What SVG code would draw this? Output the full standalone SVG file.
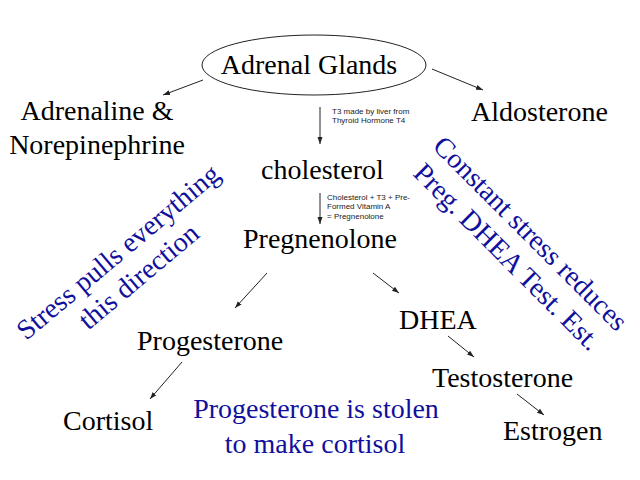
<svg xmlns="http://www.w3.org/2000/svg" width="640" height="480" viewBox="0 0 640 480">
<style>
.t{font-family:"Liberation Serif","Times New Roman",serif;font-size:28px;fill:#000}
.b{font-family:"Liberation Serif","Times New Roman",serif;font-size:28px;fill:#10109c}
.s{font-family:"Liberation Sans",Arial,sans-serif;font-size:8px;fill:#222}
.c{stroke:#222;stroke-width:1;fill:none;marker-end:url(#ah)}
</style>
<defs>
<marker id="ah" markerUnits="userSpaceOnUse" markerWidth="8" markerHeight="6" refX="7" refY="3" orient="auto">
<path d="M0,0.5 L7,3 L0,5.5 z" fill="#222"/>
</marker>
</defs>
<rect width="640" height="480" fill="#fff"/>
<g id="connectors">
<line class="c" x1="203" y1="80" x2="163" y2="95"/>
<line class="c" x1="432" y1="69" x2="483" y2="90"/>
<line class="c" x1="320" y1="107" x2="320" y2="144"/>
<line class="c" x1="320" y1="193" x2="320" y2="224"/>
<line class="c" x1="267" y1="273" x2="235" y2="308"/>
<line class="c" x1="373" y1="273" x2="399" y2="293"/>
<line class="c" x1="448" y1="336" x2="474" y2="357"/>
<line class="c" x1="182" y1="362" x2="150" y2="399"/>
<line class="c" x1="517" y1="394" x2="544" y2="415"/>
</g>
<g id="adrenal">
<ellipse cx="314" cy="65" rx="112" ry="30" fill="#fff" stroke="#222" stroke-width="1"/>
<text class="t" x="309" y="74" text-anchor="middle">Adrenal Glands</text>
</g>
<g id="adrenaline">
<text class="t" x="97" y="120" text-anchor="middle">Adrenaline &amp;</text>
<text class="t" x="97" y="154" text-anchor="middle">Norepinephrine</text>
</g>
<g id="aldosterone"><text class="t" x="471" y="121">Aldosterone</text></g>
<g id="note-t3">
<text class="s" x="332" y="113.5">T3 made by liver from</text>
<text class="s" x="332" y="123">Thyroid Hormone T4</text>
</g>
<g id="cholesterol"><text class="t" x="261" y="179">cholesterol</text></g>
<g id="note-preg">
<text class="s" x="327" y="200">Cholesterol + T3 + Pre-</text>
<text class="s" x="327" y="209.3">Formed Vitamin A</text>
<text class="s" x="327" y="218.6">= Pregnenolone</text>
</g>
<g id="pregnenolone"><text class="t" x="243" y="248">Pregnenolone</text></g>
<g id="progesterone"><text class="t" x="137" y="350">Progesterone</text></g>
<g id="dhea"><text class="t" x="399" y="329">DHEA</text></g>
<g id="testosterone"><text class="t" x="432" y="387">Testosterone</text></g>
<g id="cortisol"><text class="t" x="63" y="430">Cortisol</text></g>
<g id="estrogen"><text class="t" x="503" y="440">Estrogen</text></g>
<g id="note-stolen">
<text class="b" x="316" y="418" text-anchor="middle">Progesterone is stolen</text>
<text class="b" x="315" y="453" text-anchor="middle">to make cortisol</text>
</g>
<g id="note-stress">
<text class="b" transform="translate(124,259) rotate(-40)" text-anchor="middle" font-size="28.5"><tspan x="0" y="0">Stress pulls everything</tspan><tspan x="0" y="32">this direction</tspan></text>
</g>
<g id="note-constant">
<text class="b" transform="translate(524,240) rotate(45)" text-anchor="middle"><tspan x="0" y="0">Constant stress reduces</tspan><tspan x="0" y="33">Preg. DHEA Test. Est.</tspan></text>
</g>
</svg>
